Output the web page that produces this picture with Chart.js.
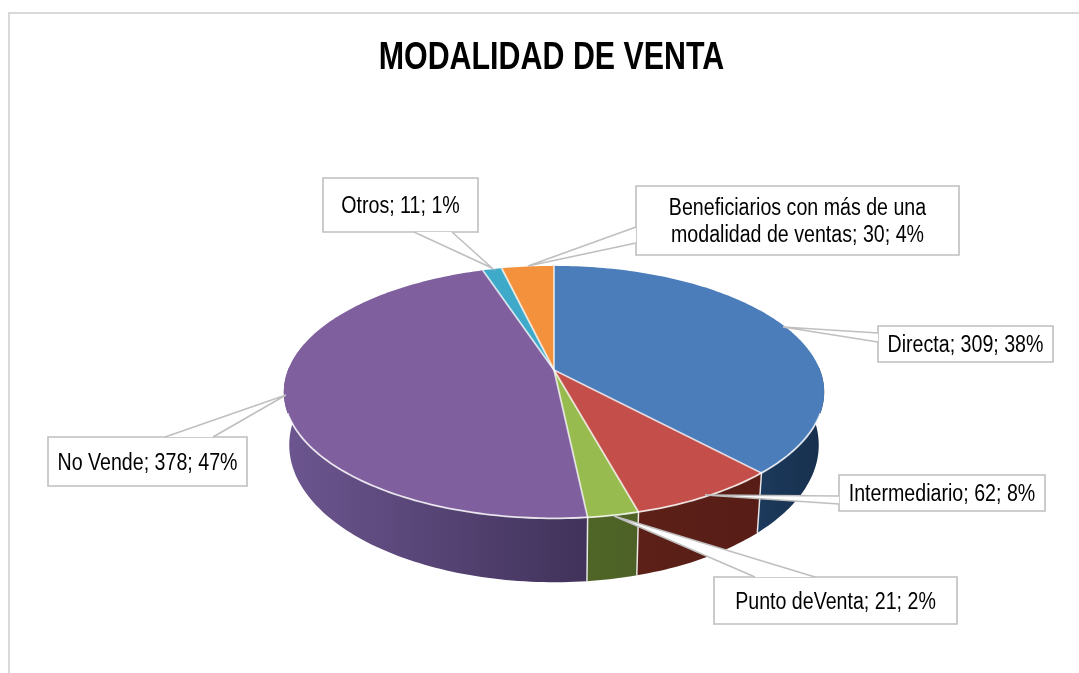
<!DOCTYPE html>
<html>
<head>
<meta charset="utf-8">
<title>Modalidad de venta</title>
<script src="https://cdn.jsdelivr.net/npm/chart.js@4"></script>
<style>
  html, body { margin: 0; padding: 0; background: #fff; }
  #wrap { position: relative; width: 1079px; height: 673px; }
</style>
</head>
<body>
<div id="wrap"><canvas id="pie"></canvas></div>
<script>
// Chart data
const chartTitle = 'MODALIDAD DE VENTA';
const categories = ['Directa', 'Intermediario', 'Punto deVenta', 'No Vende', 'Otros', 'Beneficiarios con más de una modalidad de ventas'];
const values = [309, 62, 21, 378, 11, 30];
const percents = [38, 8, 2, 47, 1, 4];

// Slice colours
const topColors = ['#4b7dbb', '#c44f4a', '#98bb50', '#7f5f9d', '#3fa9c9', '#f4913d'];
const sideLeft = ['#1c3a5c', '#5c2018', '#4f6527', '#6d5690', '#2b6f82', '#a8601f'];
const sideRight = ['#172f4d', '#571d16', '#4d6126', '#40325a', '#2b6f82', '#a8601f'];

// Callout boxes, same order as the categories: x, y, w, h, then the wedge
const callouts = [
    { box: [878, 326, 175, 36], base: [[878, 342], [878, 333]], tip: [783, 327] },
    { box: [839, 475, 206, 36], base: [[839, 504], [839, 496]], tip: [705, 495] },
    { box: [714, 577, 243, 47], base: [[815, 577], [755, 577]], tip: [614, 516] },
    { box: [48, 437, 199, 49], base: [[213, 437], [165, 437]], tip: [286, 395] },
    { box: [323, 178, 155, 54], base: [[414, 232], [452, 232]], tip: [492, 268] },
    { box: [636, 186, 323, 69], base: [[636, 243], [636, 227]], tip: [528, 266] }
];

const FONT = '"Liberation Sans", Arial, sans-serif';
const TITLE_SQUEEZE = 0.8; // the reference text is narrower than the font
const LABEL_SQUEEZE = 0.853;

// Perspective of the top and bottom discs, relative to the pie arc radius
const K = 0.175;
const TOP_V = 0.46;
const BOT = { scaleX: 0.98, scaleY: 0.5, dy: 51 };

function project(arc, t, disc) {
    const u = Math.sin(t), v = -Math.cos(t);
    const d = 1 - K * v;
    if (disc === 'bottom') {
        return [arc.x + arc.outerRadius * BOT.scaleX * u / d, arc.y + BOT.dy + arc.outerRadius * BOT.scaleY * v / d];
    }
    return [arc.x + arc.outerRadius * u / d, arc.y + arc.outerRadius * TOP_V * v / d];
}

function rimPoints(arc, from, to, disc) {
    const pts = [];
    const n = Math.max(2, Math.ceil((to - from) / 0.02));
    for (let i = 0; i <= n; i++) pts.push(project(arc, from + (to - from) * i / n, disc));
    return pts;
}

function tracePts(ctx, pts, move) {
    pts.forEach((p, i) => {
        if (i === 0 && move) ctx.moveTo(p[0], p[1]);
        else ctx.lineTo(p[0], p[1]);
    });
}

function squeezedText(ctx, text, x, y, squeeze) {
    ctx.save();
    ctx.translate(x, y);
    ctx.scale(squeeze, 1);
    ctx.fillText(text, 0, 0);
    ctx.restore();
}

function wrapLabel(ctx, text, maxWidth) {
    const lines = [];
    let line = '';
    text.split(' ').forEach(word => {
        const next = line ? line + ' ' + word : word;
        if (ctx.measureText(next).width * LABEL_SQUEEZE > maxWidth && line) {
            lines.push(line);
            line = word;
        } else {
            line = next;
        }
    });
    lines.push(line);
    return lines;
}

const pie3d = {
    id: 'pie3d',
    beforeDatasetsDraw(chart) {
        const ctx = chart.ctx;
        const arcs = chart.getDatasetMeta(0).data;
        ctx.save();
        ctx.lineJoin = 'round';

        // side wall, only the part facing the viewer
        arcs.forEach((arc, i) => {
            const start = arc.startAngle + Math.PI / 2;
            const end = arc.endAngle + Math.PI / 2;
            const from = Math.max(start, Math.PI / 2 - 0.03);
            const to = Math.min(end, Math.PI * 1.5 + 0.03);
            if (to <= from) return;
            const top = rimPoints(arc, from, to, 'top');
            const bot = rimPoints(arc, from, to, 'bottom');
            const xs = top.concat(bot).map(p => p[0]);
            const g = ctx.createLinearGradient(Math.min(...xs), 0, Math.max(...xs), 0);
            g.addColorStop(0, sideLeft[i]);
            g.addColorStop(1, sideRight[i]);
            ctx.beginPath();
            tracePts(ctx, top, true);
            tracePts(ctx, bot.reverse(), false);
            ctx.closePath();
            ctx.fillStyle = g;
            ctx.fill();
        });

        // white edges between the wall pieces
        ctx.strokeStyle = 'rgba(255,255,255,0.85)';
        ctx.lineWidth = 1.5;
        arcs.forEach(arc => {
            const t = arc.endAngle + Math.PI / 2;
            if (t < Math.PI / 2 || t > Math.PI * 1.5) return;
            const a = project(arc, t, 'top'), b = project(arc, t, 'bottom');
            ctx.beginPath();
            ctx.moveTo(a[0], a[1]);
            ctx.lineTo(b[0], b[1]);
            ctx.stroke();
        });

        // top surface
        arcs.forEach((arc, i) => {
            const rim = rimPoints(arc, arc.startAngle + Math.PI / 2, arc.endAngle + Math.PI / 2, 'top');
            ctx.beginPath();
            ctx.moveTo(arc.x, arc.y);
            tracePts(ctx, rim, false);
            ctx.closePath();
            ctx.fillStyle = topColors[i];
            ctx.fill();
        });

        // separators between the slices
        ctx.strokeStyle = 'rgba(255,255,255,0.72)';
        ctx.lineWidth = 1.8;
        arcs.forEach(arc => {
            const p = project(arc, arc.startAngle + Math.PI / 2, 'top');
            ctx.beginPath();
            ctx.moveTo(arc.x, arc.y);
            ctx.lineTo(p[0], p[1]);
            ctx.stroke();
        });

        // bright rim at the front
        ctx.beginPath();
        tracePts(ctx, rimPoints(arcs[0], Math.PI * 0.608, Math.PI * 1.392, 'top'), true);
        ctx.strokeStyle = 'rgba(255,255,255,0.82)';
        ctx.lineWidth = 1.8;
        ctx.stroke();
        ctx.restore();
        return false; // the pie is fully painted above
    },
    afterDraw(chart) {
        const ctx = chart.ctx;
        ctx.save();

        // frame, cropped on the right and bottom
        ctx.strokeStyle = '#d9d9d9';
        ctx.lineWidth = 2;
        ctx.beginPath();
        ctx.moveTo(9, chart.height);
        ctx.lineTo(9, 13);
        ctx.lineTo(chart.width, 13);
        ctx.stroke();

        ctx.fillStyle = '#000';
        ctx.textAlign = 'center';
        ctx.textBaseline = 'alphabetic';
        ctx.font = 'bold 38px ' + FONT;
        squeezedText(ctx, chartTitle, 551.5, 69, TITLE_SQUEEZE);

        callouts.forEach((c, n) => {
            const [x, y, w, h] = c.box;
            ctx.beginPath();
            ctx.rect(x, y, w, h);
            ctx.fillStyle = '#fff';
            ctx.fill();
            ctx.strokeStyle = '#bfbfbf';
            ctx.lineWidth = 1.6;
            ctx.stroke();
            // wedge over the border so the box and pointer read as one shape
            ctx.beginPath();
            ctx.moveTo(c.base[0][0], c.base[0][1]);
            ctx.lineTo(c.tip[0], c.tip[1]);
            ctx.lineTo(c.base[1][0], c.base[1][1]);
            ctx.closePath();
            ctx.fillStyle = '#fff';
            ctx.fill();
            ctx.beginPath();
            ctx.moveTo(c.base[0][0], c.base[0][1]);
            ctx.lineTo(c.tip[0], c.tip[1]);
            ctx.lineTo(c.base[1][0], c.base[1][1]);
            ctx.stroke();

            ctx.fillStyle = '#000';
            ctx.font = '23px ' + FONT;
            const text = categories[n] + '; ' + values[n] + '; ' + percents[n] + '%';
            const lines = wrapLabel(ctx, text, w);
            const cy = y + h / 2;
            lines.forEach((line, i) => {
                squeezedText(ctx, line, x + w / 2, cy + 8 + (i - (lines.length - 1) / 2) * 27.5, LABEL_SQUEEZE);
            });
        });
        ctx.restore();
    }
};

new Chart(document.getElementById('pie'), {
    type: 'pie',
    data: {
        labels: categories,
        datasets: [{ data: values, backgroundColor: topColors, borderWidth: 0 }]
    },
    plugins: [pie3d],
    options: {
        responsive: true,
        maintainAspectRatio: false,
        animation: false,
        layout: { padding: { left: 288, right: 259, top: 104, bottom: 37 } },
        plugins: { legend: { display: false }, title: { display: false }, tooltip: { enabled: false } }
    }
});
</script>
</body>
</html>
